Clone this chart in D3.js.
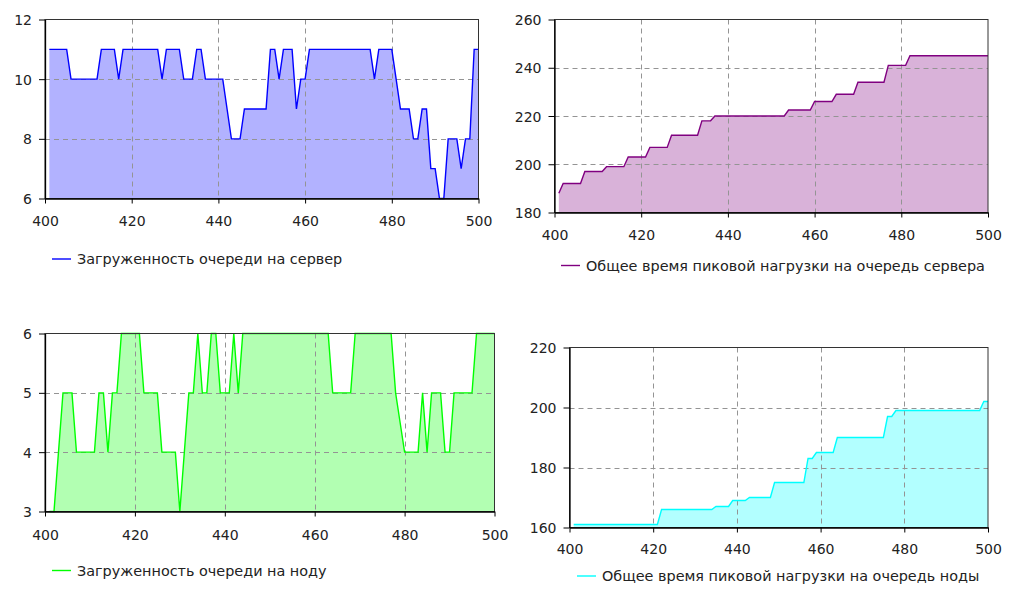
<!DOCTYPE html>
<html><head><meta charset="utf-8">
<script src="https://cdn.jsdelivr.net/npm/d3@7"></script>
<style>
body{margin:0;background:#fff}
svg{display:block}
text{font-family:"DejaVu Sans",sans-serif;fill:#222}
</style>
</head><body>
<svg id="chart" width="1010" height="594"></svg>
<script>
// ---- data ----
const time = d3.range(401, 501); // model time steps 401..500
const xTickValues = [400, 420, 440, 460, 480, 500];

const serverLoad = [
 11,11,11,11,11,10,10,10,10,10,
 10,10,11,11,11,11,10,11,11,11,
 11,11,11,11,11,11,10,11,11,11,
 11,10,10,10,11,11,10,10,10,10,
 10,9,8,8,8,9,9,9,9,9,
 9,11,11,10,11,11,11,9,10,10,
 11,11,11,11,11,11,11,11,11,11,
 11,11,11,11,11,10,11,11,11,11,
 10,9,9,9,8,8,9,9,7,7,
 6,6,8,8,8,7,8,8,11,11];
const serverPeak = [
 188,192,192,192,192,192,197,197,197,197,
 197,199,199,199,199,199,203,203,203,203,
 203,207,207,207,207,207,212,212,212,212,
 212,212,212,218,218,218,220,220,220,220,
 220,220,220,220,220,220,220,220,220,220,
 220,220,220,222.5,222.5,222.5,222.5,222.5,222.5,226,
 226,226,226,226,229,229,229,229,229,234,
 234,234,234,234,234,234,241,241,241,241,
 241,245,245,245,245,245,245,245,245,245,
 245,245,245,245,245,245,245,245,245,245];
const nodeLoad = [
 3,3,4,5,5,5,4,4,4,4,
 4,5,5,4,5,5,6,6,6,6,
 6,5,5,5,5,4,4,4,4,3,
 4,5,5,6,5,5,6,6,5,5,
 5,6,5,6,6,6,6,6,6,6,
 6,6,6,6,6,6,6,6,6,6,
 6,6,6,5,5,5,5,5,6,6,
 6,6,6,6,6,6,6,5,4.5,4,
 4,4,4,5,4,5,5,5,4,4,
 5,5,5,5,5,6,6,6,6,6];
const nodePeak = [
 161,161,161,161,161,161,161,161,161,161,
 161,161,161,161,161,161,161,161,161,161,
 161,166,166,166,166,166,166,166,166,166,
 166,166,166,166,167,167,167,167,169,169,
 169,169,170,170,170,170,170,170,175,175,
 175,175,175,175,175,175,183,183,185,185,
 185,185,185,190,190,190,190,190,190,190,
 190,190,190,190,190,197,197,199,199,199,
 199,199,199,199,199,199,199,199,199,199,
 199,199,199,199,199,199,199,199,202,202];

const serverLoadTicks = [6, 8, 10, 12];
const serverPeakTicks = [180, 200, 220, 240, 260];
const nodeLoadTicks = [3, 4, 5, 6];
const nodePeakTicks = [160, 180, 200, 220];

const labels = [
 "Загруженность очереди на сервер",
 "Общее время пиковой нагрузки на очередь сервера",
 "Загруженность очереди на ноду",
 "Общее время пиковой нагрузки на очередь ноды"];

// ---- layout ----
const panels = [
 {values: serverLoad, yTicks: serverLoadTicks, label: labels[0], color: "#0000ff",
  l: 45, r: 478.5, t: 19.5, b: 198.5, xLabY: 225.5, legY: 259, legX: 52},
 {values: serverPeak, yTicks: serverPeakTicks, label: labels[1], color: "#800080",
  l: 554.5, r: 988, t: 19.5, b: 212.5, xLabY: 239.5, legY: 265.5, legX: 561},
 {values: nodeLoad, yTicks: nodeLoadTicks, label: labels[2], color: "#00ff00",
  l: 45, r: 494.5, t: 333.5, b: 511.5, xLabY: 539.5, legY: 570.5, legX: 52},
 {values: nodePeak, yTicks: nodePeakTicks, label: labels[3], color: "#00ffff",
  l: 569.5, r: 988, t: 347.5, b: 527.5, xLabY: 553.5, legY: 576, legX: 577}
];

const svg = d3.select("#chart");

panels.forEach(p => {
  const x = d3.scaleLinear().domain([xTickValues[0], xTickValues[xTickValues.length-1]]).range([p.l, p.r]);
  const y = d3.scaleLinear().domain([p.yTicks[0], p.yTicks[p.yTicks.length-1]]).range([p.b, p.t]);
  const g = svg.append("g");
  const pts = time.map((t, i) => [t, p.values[i]]);

  g.append("path").datum(pts)
    .attr("d", d3.area().x(d => x(d[0])).y0(p.b).y1(d => y(d[1])))
    .attr("fill", p.color).attr("fill-opacity", 0.3);

  const gx = xTickValues.slice(1, -1), gy = p.yTicks.slice(1, -1);
  g.selectAll(null).data(gx).enter().append("line")
    .attr("x1", d => Math.round(x(d)) + 0.5).attr("x2", d => Math.round(x(d)) + 0.5)
    .attr("y1", p.t).attr("y2", p.b)
    .attr("stroke", "#949494").attr("stroke-dasharray", "5,4").attr("stroke-width", 1);
  g.selectAll(null).data(gy).enter().append("line")
    .attr("y1", d => Math.round(y(d)) + 0.5).attr("y2", d => Math.round(y(d)) + 0.5)
    .attr("x1", p.l).attr("x2", p.r)
    .attr("stroke", "#949494").attr("stroke-dasharray", "5,4").attr("stroke-width", 1);

  g.append("path").datum(pts)
    .attr("d", d3.line().x(d => x(d[0])).y(d => y(d[1])))
    .attr("fill", "none").attr("stroke", p.color).attr("stroke-width", 1.4)
    .attr("stroke-linejoin", "miter");

  g.append("rect").attr("x", p.l).attr("y", p.t).attr("width", p.r - p.l).attr("height", p.b - p.t)
    .attr("fill", "none").attr("stroke", "#333").attr("stroke-width", 1);

  const ax = g.append("g").attr("transform", `translate(0,${p.b})`)
    .call(d3.axisBottom(x).tickValues(xTickValues).tickSize(5).tickSizeOuter(0).tickFormat(d3.format("d")));
  ax.select(".domain").attr("stroke", "#000").attr("stroke-width", 1.3);
  ax.selectAll(".tick line").attr("stroke", "#000");
  ax.selectAll(".tick text").attr("y", null).attr("dy", null)
    .attr("transform", `translate(0,${p.xLabY - p.b})`)
    .style("font-size", "14px").style("font-family", "DejaVu Sans").attr("fill", "#222");

  const ay = g.append("g").attr("transform", `translate(${p.l},0)`)
    .call(d3.axisLeft(y).tickValues(p.yTicks).tickSize(6).tickSizeOuter(0).tickPadding(7).tickFormat(d3.format("d")));
  ay.select(".domain").attr("stroke", "#000").attr("stroke-width", 1.3);
  ay.selectAll(".tick line").attr("stroke", "#000");
  ay.selectAll(".tick text").attr("dy", "0.36em")
    .style("font-size", "14px").style("font-family", "DejaVu Sans").attr("fill", "#222");

  g.append("line").attr("x1", p.legX).attr("x2", p.legX + 19)
    .attr("y1", p.legY).attr("y2", p.legY).attr("stroke", p.color).attr("stroke-width", 1.4);
  g.append("text").attr("x", p.legX + 25).attr("y", p.legY + 5)
    .style("font-size", "14.4px").text(p.label);
});
</script>
</body></html>
